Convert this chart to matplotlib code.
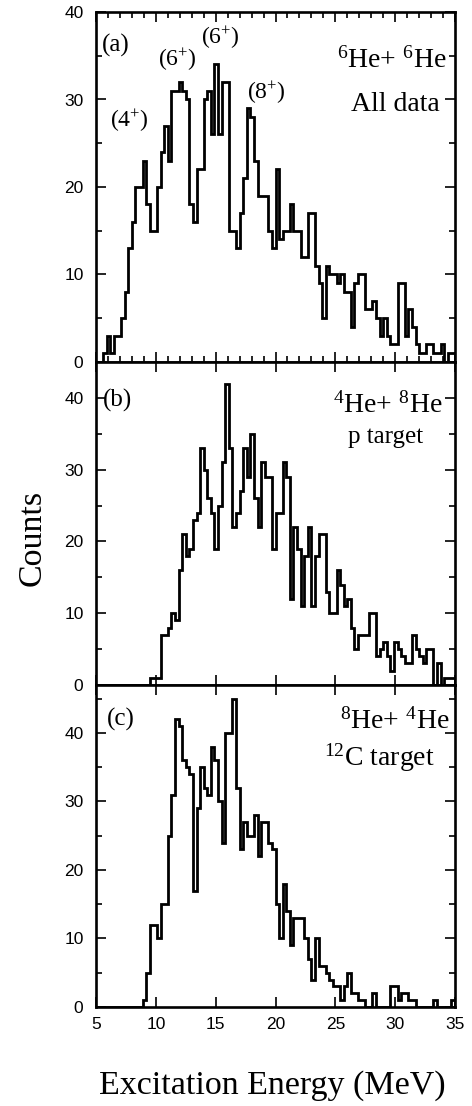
import numpy as np
import matplotlib
matplotlib.use("Agg")
import matplotlib.pyplot as plt
from matplotlib.ticker import MultipleLocator

plt.rcParams["font.family"] = ["Liberation Sans", "DejaVu Sans"]
plt.rcParams["mathtext.fontset"] = "custom"
plt.rcParams["mathtext.rm"] = "Liberation Serif"
plt.rcParams["mathtext.it"] = "Liberation Serif:italic"
plt.rcParams["mathtext.bf"] = "Liberation Serif:bold"

# ---------------- data ----------------
E_MIN, E_MAX, BIN_W = 5.0, 35.0, 0.3
edges = np.round(np.arange(E_MIN, E_MAX + BIN_W / 2, BIN_W), 3)

counts_a = [0, 0, 1, 3, 1, 3, 3, 5, 8, 13,
            16, 20, 20, 23, 18, 15, 15, 20, 24, 27,
            23, 31, 31, 32, 31, 30, 18, 16, 22, 22,
            30, 31, 26, 34, 26, 32, 32, 15, 15, 13,
            17, 21, 29, 28, 23, 19, 19, 19, 15, 13,
            22, 14, 15, 15, 18, 15, 15, 12, 12, 17,
            17, 11, 9, 5, 11, 10, 10, 9, 10, 8,
            8, 4, 9, 10, 10, 6, 6, 7, 5, 3,
            5, 3, 2, 2, 9, 9, 3, 6, 4, 2,
            1, 1, 2, 2, 1, 1, 2, 0, 1, 1]

counts_b = [0, 0, 0, 0, 0, 0, 0, 0, 0, 0,
            0, 0, 0, 0, 0, 1, 1, 1, 7, 7,
            8, 10, 9, 16, 21, 18, 19, 23, 24, 33,
            30, 26, 24, 19, 25, 31, 42, 33, 22, 24,
            27, 33, 29, 35, 26, 22, 31, 29, 29, 19,
            24, 24, 31, 29, 12, 22, 19, 11, 18, 22,
            11, 18, 21, 21, 13, 10, 10, 16, 14, 11,
            12, 8, 5, 7, 7, 7, 10, 10, 4, 5,
            6, 4, 2, 6, 5, 4, 3, 3, 7, 5,
            4, 3, 5, 5, 0, 3, 0, 1, 1, 1]

counts_c = [0, 0, 0, 0, 0, 0, 0, 0, 0, 0,
            0, 0, 0, 1, 5, 12, 12, 10, 15, 15,
            25, 31, 42, 41, 36, 35, 34, 17, 29, 35,
            32, 31, 38, 36, 30, 24, 40, 40, 45, 32,
            23, 27, 25, 25, 28, 22, 27, 27, 24, 23,
            15, 10, 18, 14, 9, 13, 13, 13, 10, 7,
            4, 10, 6, 6, 5, 4, 3, 3, 1, 3,
            5, 2, 2, 1, 1, 0, 0, 2, 0, 0,
            0, 0, 3, 3, 1, 2, 2, 1, 1, 0,
            0, 0, 0, 0, 1, 0, 0, 0, 0, 1]

y_limits = [40, 45, 47]
panel_tags = ["(a)", "(b)", "(c)"]
reactions = [r"$^{6}$He+ $^{6}$He", r"$^{4}$He+ $^{8}$He", r"$^{8}$He+ $^{4}$He"]
subtitles = ["All data", "p target", r"$^{12}$C target"]
spin_labels = [r"(4$^{+}$)", r"(6$^{+}$)", r"(6$^{+}$)", r"(8$^{+}$)"]
spin_pos = [(7.8, 27.6), (11.8, 34.5), (15.35, 37.1), (19.2, 30.8)]

# ---------------- layout ----------------
FW, FH = 472, 1106
fig = plt.figure(figsize=(FW / 100, FH / 100), dpi=100)
left_px, right_px = 96, 455
panel_px = [(12, 362), (362, 685), (685, 1007)]

SERIF = ["Liberation Serif", "DejaVu Serif"]
axes = []
for (top, bot) in panel_px:
    ax = fig.add_axes([left_px / FW, 1 - bot / FH, (right_px - left_px) / FW, (bot - top) / FH])
    axes.append(ax)

all_counts = [counts_a, counts_b, counts_c]
for i, ax in enumerate(axes):
    ax.stairs(all_counts[i], edges, color="black", linewidth=2.0, baseline=0)
    ax.set_xlim(E_MIN, E_MAX)
    ax.set_ylim(0, y_limits[i])
    ax.xaxis.set_major_locator(MultipleLocator(5))
    if i == 0:
        ax.xaxis.set_minor_locator(MultipleLocator(1))
    ax.yaxis.set_major_locator(MultipleLocator(10))
    ax.yaxis.set_minor_locator(MultipleLocator(5))
    ax.tick_params(which="both", direction="in", top=True, right=True, width=1.2,
                   labelsize=12.5)
    ax.tick_params(which="major", length=7)
    ax.tick_params(which="minor", length=4)
    ax.tick_params(axis="y", pad=9)
    ax.tick_params(axis="x", pad=7)
    for s in ax.spines.values():
        s.set_linewidth(1.9)
    if i < 2:
        ax.tick_params(axis="x", labelbottom=False)

# panel tags
tag_pos = [(5.45, 36.2), (5.6, 39.7), (5.9, 41.9)]
for ax, tag, (x, y) in zip(axes, panel_tags, tag_pos):
    ax.text(x, y, tag, family=SERIF, fontsize=18, ha="left", va="center")

# reaction labels
react_pos = [(34.3, 33.6), (34.0, 38.0), (34.55, 40.6)]
for ax, r, (x, y) in zip(axes, reactions, react_pos):
    ax.text(x, y, r, family=SERIF, fontsize=20, ha="right", va="baseline")

sub_pos = [(33.75, 28.7), (32.35, 33.7), (33.3, 35.2)]
sub_size = [20, 18, 20]
for ax, s, (x, y), fs in zip(axes, subtitles, sub_pos, sub_size):
    ax.text(x, y, s, family=SERIF, fontsize=fs, ha="right", va="baseline")

for lab, (x, y) in zip(spin_labels, spin_pos):
    axes[0].text(x, y, lab, family=SERIF, fontsize=17, ha="center", va="center")

fig.text(32 / FW, 1 - 538 / FH, "Counts", family=SERIF, fontsize=24.5,
         rotation=90, ha="center", va="center")
fig.text(272 / FW, 1 - 1086 / FH, "Excitation Energy (MeV)", family=SERIF,
         fontsize=24.5, ha="center", va="center")

fig.savefig("out.png", dpi=100)
